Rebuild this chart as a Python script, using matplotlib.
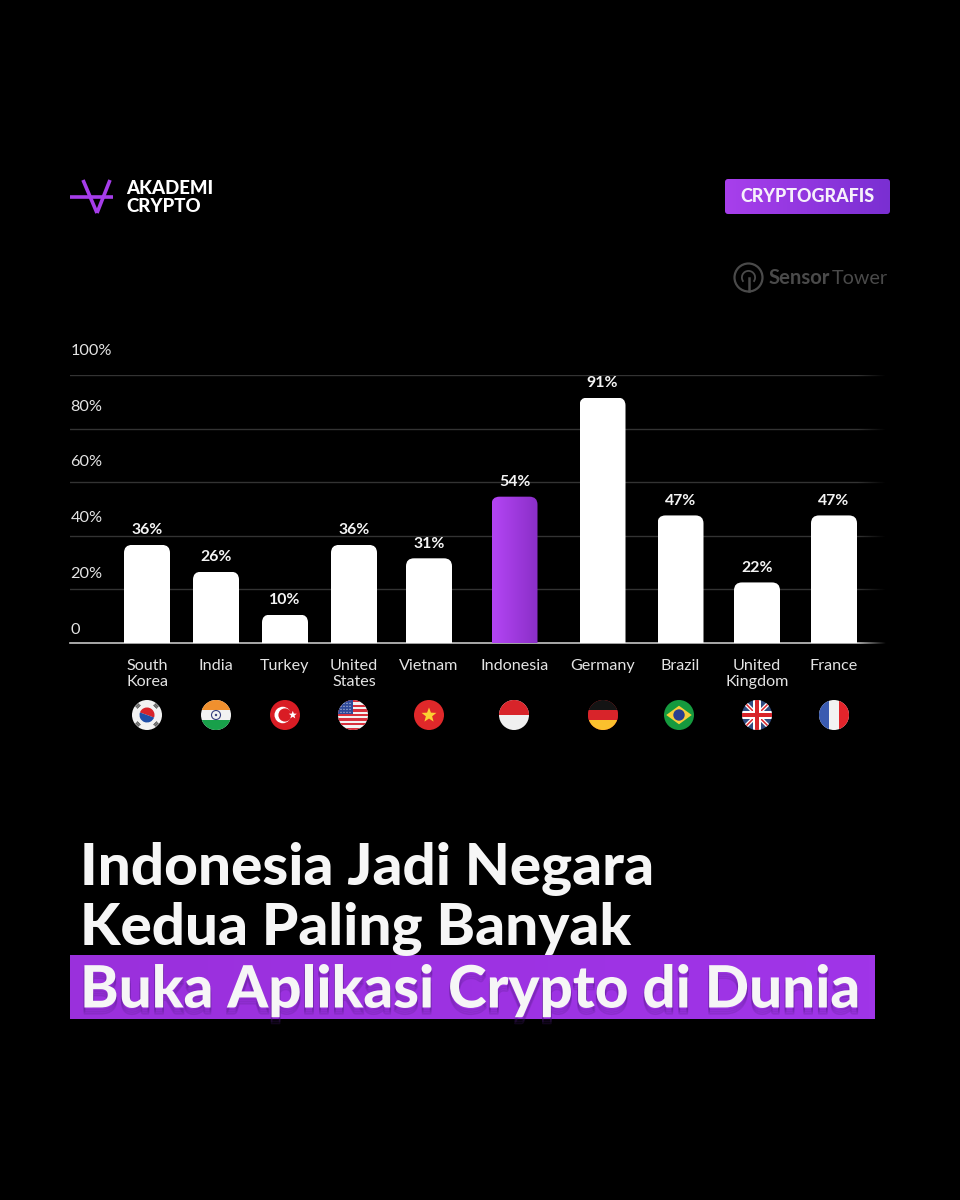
import numpy as np
import matplotlib
matplotlib.use("Agg")
import matplotlib.pyplot as plt
from matplotlib.path import Path
from matplotlib.patches import Circle, Rectangle, Polygon, FancyBboxPatch, Wedge
from matplotlib.colors import LinearSegmentedColormap
import matplotlib.patheffects as pe

countries = ["South\nKorea", "India", "Turkey", "United\nStates", "Vietnam", "Indonesia",
             "Germany", "Brazil", "United\nKingdom", "France"]
values = [36, 26, 10, 36, 31, 54, 91, 47, 22, 47]
y_ticks = [0, 20, 40, 60, 80, 100]
y_tick_labels = ["0", "20%", "40%", "60%", "80%", "100%"]
bar_slots = [147, 216, 285, 354, 429, 514.5, 602.5, 680.5, 757, 834]
flag_slots = [147, 216, 285, 353, 429, 514, 603, 679, 757, 834]
flag_names = ["kr", "in", "tr", "us", "vn", "id", "de", "br", "gb", "fr"]

FONT = "Lato"
plt.rcParams["font.family"] = [FONT, "DejaVu Sans"]
W, H = 960, 1200
fig = plt.figure(figsize=(9.6, 12), dpi=100, facecolor="black")

def axes_px(l, t, r, b, **kw):
    return fig.add_axes([l / W, 1 - b / H, (r - l) / W, (b - t) / H], **kw)

ov = axes_px(0, 0, W, H, zorder=5)
ov.set_xlim(0, W); ov.set_ylim(H, 0); ov.axis("off")

purple = LinearSegmentedColormap.from_list("p", ["#b445f4", "#8a2fc8"])
badge = LinearSegmentedColormap.from_list("bd", ["#a83fec", "#7a2fd2"])

# ---- chart
ax = axes_px(70, 375, 885, 643, zorder=2, facecolor="none")
ax.set_xlim(70, 885); ax.set_ylim(0, 100)
ax.set_yticks(y_ticks); ax.tick_params(axis="y", length=0, labelleft=False)
ax.grid(axis="y", color="#333333", lw=1); ax.set_axisbelow(True)
for s in ax.spines.values():
    s.set_visible(False)
ax.spines["bottom"].set_visible(True); ax.spines["bottom"].set_color("#c4c4c4"); ax.spines["bottom"].set_linewidth(1.2)
ax.set_xticks(bar_slots); ax.set_xticklabels(countries, fontsize=11.6, color="#e4e4e4", linespacing=1.22)
ax.tick_params(axis="x", length=0, pad=11.2)

bw = 46; rad_x = 8; rad_y = rad_x * 100 / 268
bars = ax.bar(bar_slots, values, width=bw, color="white", zorder=3)
for i, (b, v) in enumerate(zip(bars, values)):
    x0, x1 = b.get_x(), b.get_x() + b.get_width()
    h = v + 0.6
    b.set_height(h)
    verts = [(x0, 0), (x0, h - rad_y), (x0, h), (x0 + rad_x, h), (x1 - rad_x, h), (x1, h), (x1, h - rad_y), (x1, 0), (x0, 0)]
    codes = [Path.MOVETO, Path.LINETO, Path.CURVE3, Path.CURVE3, Path.LINETO, Path.CURVE3, Path.CURVE3, Path.LINETO, Path.CLOSEPOLY]
    p = Path(verts, codes)
    b.set_clip_path(p, ax.transData)
    if countries[i] == "Indonesia":
        b.set_visible(False)
        im = ax.imshow(np.linspace(0, 1, 64).reshape(1, -1), extent=(x0, x1, 0, h), cmap=purple, aspect="auto", zorder=3)
        im.set_clip_path(p, ax.transData)
    ov.text(b.get_x() + bw / 2, 643 - h * 2.68 - 14.5, f"{v}%", ha="center", va="center",
            color="#f4f4f4", fontsize=11.4, fontweight="bold")
ax.set_xlim(70, 885); ax.set_ylim(0, 100)

# grid lines and baseline fade out at the right edge
fade = np.zeros((1, 64, 4)); fade[..., 3] = np.linspace(0, 1, 64)
ov.imshow(fade, extent=(858, 886, 646, 370), aspect="auto", zorder=4)
ov.set_xlim(0, W); ov.set_ylim(H, 0)

# y tick labels sit above their grid lines on their own tighter scale
tax = axes_px(70.5, 349.5, 885, 628, zorder=1, facecolor="none")
tax.set_ylim(0, 100); tax.set_xticks([])
for s in tax.spines.values():
    s.set_visible(False)
tax.set_yticks(y_ticks); tax.set_yticklabels(y_tick_labels, fontsize=11.7, color="#e4e4e4", ha="left")
tax.tick_params(axis="y", length=0, pad=0)

# ---- flags
def flag(name, cx, cy, r=15):
    base = {"kr": "#f2f2f2", "in": "#f2f2f2", "tr": "#d91c24", "us": "#f2f2f2", "vn": "#e0282a",
            "id": "#f0f0f0", "de": "#d8242a", "br": "#159a3e", "gb": "#2f4a80", "fr": "#f2f2f2"}[name]
    c = Circle((cx, cy), r, fc=base, ec="none", zorder=6)
    ov.add_patch(c)
    def R(x0, y0, x1, y1, col, z=7):
        a = Rectangle((cx + x0 * r, cy + y0 * r), (x1 - x0) * r, (y1 - y0) * r, fc=col, ec="none", zorder=z)
        ov.add_patch(a); a.set_clip_path(c)
    def C(dx, dy, rr, col, z=8):
        a = Circle((cx + dx * r, cy + dy * r), rr * r, fc=col, ec="none", zorder=z)
        ov.add_patch(a); a.set_clip_path(c)
    def star(dx, dy, rr, col):
        ang = np.deg2rad(-90 + np.arange(10) * 36)
        rad = np.where(np.arange(10) % 2 == 0, rr, rr * 0.42)
        a = Polygon(np.c_[cx + (dx + rad * np.cos(ang)) * r, cy + (dy + rad * np.sin(ang)) * r], fc=col, ec="none", zorder=9)
        ov.add_patch(a); a.set_clip_path(c)
    def L(x0, y0, x1, y1, col, lw):
        ln = ov.plot([cx + x0 * r, cx + x1 * r], [cy + y0 * r, cy + y1 * r], color=col, lw=lw, zorder=8, solid_capstyle="butt")[0]
        ln.set_clip_path(c)
    if name == "kr":
        ov.add_patch(Wedge((cx, cy), 0.5 * r, 200, 380, fc="#d8242a", ec="none", zorder=8))
        ov.add_patch(Wedge((cx, cy), 0.5 * r, 20, 200, fc="#1f4fa8", ec="none", zorder=8))
        for sx, sy in [(-1, -1), (1, -1), (-1, 1), (1, 1)]:
            d = 1 if sx * sy > 0 else -1
            for k in (-0.1, 0, 0.1):
                px, py = sx * 0.62 + k * d * 0.7, sy * 0.62 + k * 0.7
                L(px - 0.14 * d * 0.8, py + 0.14 * 0.8, px + 0.14 * d * 0.8, py - 0.14 * 0.8, "#333333", 0.7)
    elif name == "in":
        R(-1, -1, 1, -1 / 3, "#f0902e"); R(-1, 1 / 3, 1, 1, "#18a04a")
        ov.add_patch(Circle((cx, cy), 0.3 * r, fc="none", ec="#37407f", lw=0.8, zorder=8))
        C(0, 0, 0.08, "#37407f")
    elif name == "tr":
        C(-0.15, 0, 0.55, "white"); C(0.0, 0, 0.44, "#d91c24", z=8.5); star(0.52, 0, 0.28, "white")
    elif name == "us":
        for k in range(7):
            R(-1, -1 + k * 2 / 6.5, 1, -1 + (k + 0.5) * 2 / 6.5, "#d8303c")
        R(-1, -1, 0.0, -0.05, "#2f4a9a", z=7.5)
        for dx in np.arange(-0.8, 0, 0.2):
            for dy in np.arange(-0.78, -0.1, 0.2):
                C(dx, dy, 0.035, "white")
    elif name == "vn":
        star(0, 0.02, 0.52, "#fbd032")
    elif name == "id":
        R(-1, -1, 1, 0, "#d8242a")
    elif name == "de":
        R(-1, -1, 1, -1 / 3, "#141414"); R(-1, -1 / 3, 1, 1 / 3, "#d8242a"); R(-1, 1 / 3, 1, 1, "#fbc02d")
    elif name == "br":
        ov.add_patch(Polygon([[cx - 0.85 * r, cy], [cx, cy - 0.62 * r], [cx + 0.85 * r, cy], [cx, cy + 0.62 * r]], fc="#f8d03a", ec="none", zorder=8))
        C(0, 0, 0.38, "#2a3f8f", z=9)
    elif name == "gb":
        for (x0, y0, x1, y1) in [(-1, -1, 1, 1), (-1, 1, 1, -1)]:
            L(x0, y0, x1, y1, "white", 3.0)
            L(x0, y0, x1, y1, "#d8242a", 1.1)
        R(-0.26, -1, 0.26, 1, "white", z=9); R(-1, -0.26, 1, 0.26, "white", z=9)
        R(-0.14, -1, 0.14, 1, "#d8242a", z=9.5); R(-1, -0.14, 1, 0.14, "#d8242a", z=9.5)
    elif name == "fr":
        R(-1, -1, -1 / 3, 1, "#3a5bb0"); R(1 / 3, -1, 1, 1, "#e3242b")

for n, x in zip(flag_names, flag_slots):
    flag(n, x, 715)

# ---- logo
for seg in [((70, 196.5), (113, 196.5)), ((83, 180), (97, 213)), ((110, 180), (97, 213))]:
    ov.plot(*zip(*seg), color="#a63dea", lw=2.6, solid_capstyle="butt", zorder=6)
ov.text(126, 189, "AKADEMI", color="white", fontsize=13.4, fontweight="black", va="center", ha="left")
ov.text(126, 207, "CRYPTO", color="white", fontsize=13.4, fontweight="black", va="center", ha="left")

# ---- badge
def grad_box(l, t, r, b, rounding):
    g = np.linspace(0, 1, 128).reshape(1, -1)
    im = ov.imshow(g, extent=(l, r, b, t), cmap=badge, aspect="auto", zorder=5)
    clipbox = FancyBboxPatch((l + rounding, t + rounding), r - l - 2 * rounding, b - t - 2 * rounding,
                             boxstyle=f"round,pad={rounding},rounding_size={rounding}", fc="none", ec="none", transform=ov.transData)
    ov.add_patch(clipbox)
    im.set_clip_path(clipbox)
    ov.set_xlim(0, W); ov.set_ylim(H, 0)

grad_box(725, 179, 890, 214, 3)
ov.text(807, 197, "CRYPTOGRAFIS", color="#f6f0fb", fontsize=12.9, fontweight="black", ha="center", va="center", zorder=6)

# ---- source
logo_col = "#4a4a4a"
ov.add_patch(Circle((748.5, 277.5), 14, fc="none", ec=logo_col, lw=1.6, zorder=6))
ov.add_patch(Wedge((748.5, 277.5), 7.5, 140, 40, width=1.8, fc=logo_col, ec="none", zorder=6))
ov.plot([748.5, 748.5], [278, 291], color=logo_col, lw=1.8, zorder=6)
ov.text(769, 278, "Sensor", color=logo_col, fontsize=14.6, fontweight="bold", ha="left", va="center", zorder=6)
ov.text(888, 278, "Tower", color=logo_col, fontsize=14.2, fontweight="normal", ha="right", va="center", zorder=6)

# ---- headline
ov.imshow(np.linspace(0, 1, 128).reshape(1, -1), extent=(70, 875, 1019, 955),
          cmap=LinearSegmentedColormap.from_list("b", ["#9a30dc", "#a035e8"]), aspect="auto", zorder=4)
ov.set_xlim(0, W); ov.set_ylim(H, 0)
kw = dict(fontsize=42, fontweight="black", ha="left", va="center", color="#f6f6f6", zorder=6)
ov.text(80, 869, "Indonesia Jadi Negara", **kw)
ov.text(80, 929, "Kedua Paling Banyak", **kw)
shadow = [pe.SimpleLineShadow(offset=(0, -off), shadow_color="#4f1a80", alpha=0.22, linewidth=1.2) for off in (1.5, 3, 4.5)]
ov.text(80, 991, "Buka Aplikasi Crypto di Dunia", path_effects=shadow + [pe.Normal()], **kw)

fig.savefig("out.png", dpi=100, facecolor="black")
